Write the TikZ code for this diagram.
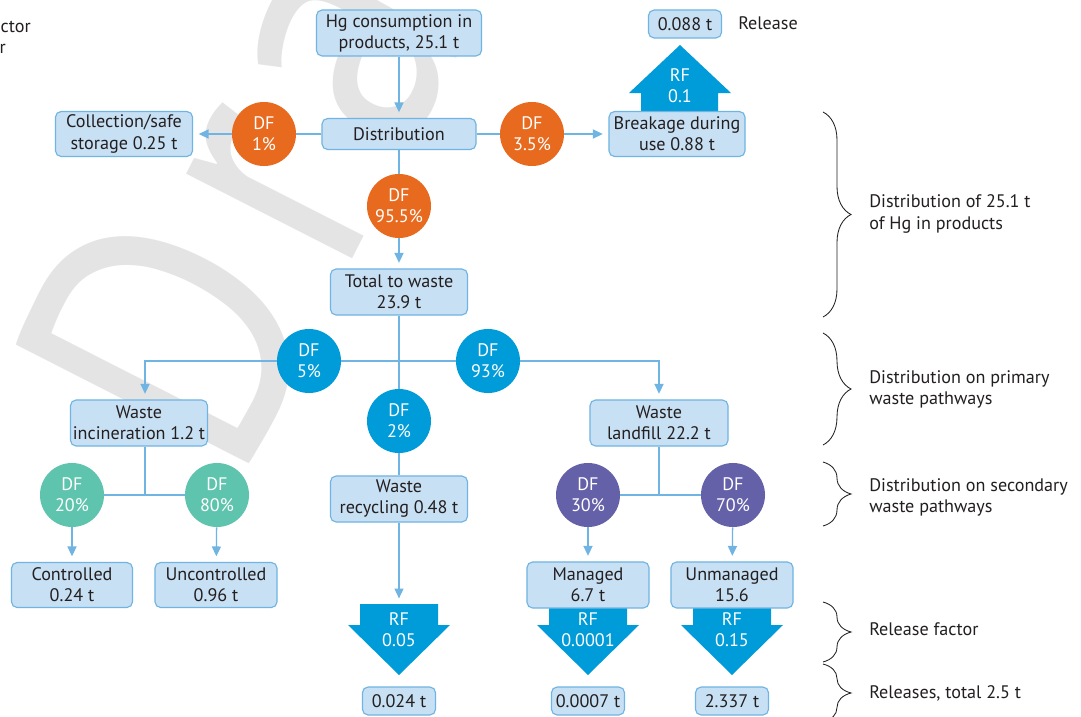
\documentclass[tikz,border=0pt]{standalone}
\usepackage{fontspec}
\setmainfont{PT Sans}
\newfontfamily\markfont[LetterSpace=8]{PT Sans}
\usetikzlibrary{arrows.meta,decorations.pathreplacing}

\definecolor{boxfill}{RGB}{200,224,243}
\definecolor{boxline}{RGB}{111,180,226}
\definecolor{linkblue}{RGB}{111,180,226}
\definecolor{dforange}{RGB}{232,106,31}
\definecolor{dfblue}{RGB}{0,155,217}
\definecolor{dfteal}{RGB}{94,196,173}
\definecolor{dfpurple}{RGB}{101,97,169}
\definecolor{inkgray}{RGB}{35,31,32}
\definecolor{markgray}{RGB}{228,228,228}

\tikzset{
  every node/.style={font=\fontsize{12.9}{15}\selectfont, text=inkgray},
  box/.style={draw=boxline, fill=boxfill, line width=0.8pt, rounded corners=4pt, align=center, inner sep=0pt},
  dfcircle/.style={circle, fill=#1, minimum size=1.6cm, inner sep=0pt, align=center, text=white},
  rflabel/.style={align=center, text=white, inner sep=0pt},
  link/.style={linkblue, line width=0.9pt},
  flow/.style={link, -{Triangle[length=7pt,width=6.4pt]}, shorten >=4pt},
  sidebrace/.style={decorate, decoration={brace, amplitude=0.7cm}, inkgray, line width=0.6pt},
}

\begin{document}
\begin{tikzpicture}[x=0.025cm,y=-0.025cm]

\def\RFCOLOR{dfblue}
	\useasboundingbox (0,0) rectangle (1081,717);
	\fill[white] (0,0) rectangle (1081,717);
	\clip (0,0) rectangle (1081,717);

	% watermark
	\node[rotate=63, anchor=base west, inner sep=0pt, text=markgray, font=\markfont\fontsize{265}{265}\selectfont] (mark) at (236,488) {\scalebox{0.85}[1]{Draft}};

	\node[anchor=east, inner sep=0pt] (legend1) at (31,26) {Distribution factor};
	\node[anchor=east, inner sep=0pt] (legend2) at (6,47) {Release factor};

	% release factor arrows
	\fill[\RFCOLOR] (641,115) -- (641,93) -- (629,93) -- (680,45) -- (731,93) -- (718,93) -- (718,115) -- cycle;
	\fill[\RFCOLOR] (360,604) -- (438,604) -- (438,625) -- (450,625) -- (399,675) -- (348,625) -- (360,625) -- cycle;
	\fill[\RFCOLOR] (549,600) -- (627,600) -- (627,625) -- (639,625) -- (588,675) -- (537,625) -- (549,625) -- cycle;
	\fill[\RFCOLOR] (693,600) -- (771,600) -- (771,625) -- (783,625) -- (732,675) -- (681,625) -- (693,625) -- cycle;
	\node[rflabel] (rf1) at (680,86) {RF\\0.1};
	\node[rflabel] (rf2) at (399,630) {RF\\0.05};
	\node[rflabel] (rf3) at (588,630) {RF\\0.0001};
	\node[rflabel] (rf4) at (732,630) {RF\\0.15};
	\coordinate (rftop2) at (399,604);

	% boxes
	\node[box, minimum width=4.125cm, minimum height=1.15cm] (hg) at (399,33) {Hg consumption in\\products, 25.1 t};
	\node[box, minimum width=3.85cm, minimum height=0.775cm] (dist) at (399,134) {Distribution};
	\node[box, minimum width=3.425cm, minimum height=1.125cm] (coll) at (124,134) {Collection/safe\\storage 0.25 t};
	\node[box, minimum width=3.4cm, minimum height=1.125cm] (break) at (677,134) {Breakage during\\use 0.88 t};
	\node[box, minimum width=1.825cm, minimum height=0.7cm] (rel1) at (685,24) {0.088 t};
	\node[anchor=west, inner sep=0pt] (reltext) at (738,23) {Release};
	\node[box, minimum width=3.425cm, minimum height=1.15cm] (waste) at (399,292) {Total to waste\\23.9 t};
	\node[box, minimum width=3.425cm, minimum height=1.15cm] (incin) at (139,423) {Waste\\incineration 1.2 t};
	\node[box, minimum width=3.425cm, minimum height=1.15cm] (recyc) at (399,499) {Waste\\recycling 0.48 t};
	\node[box, minimum width=3.45cm, minimum height=1.15cm] (landf) at (659,423) {Waste\\landfill 22.2 t};
	\node[box, minimum width=3.025cm, minimum height=1.125cm] (contr) at (72,585) {Controlled\\0.24 t};
	\node[box, minimum width=3.05cm, minimum height=1.125cm] (uncontr) at (216,585) {Uncontrolled\\0.96 t};
	\node[box, minimum width=3.05cm, minimum height=1.15cm] (manag) at (588,585) {Managed\\6.7 t};
	\node[box, minimum width=3.05cm, minimum height=1.15cm] (unmanag) at (732,585) {Unmanaged\\15.6};
	\node[box, minimum width=1.825cm, minimum height=0.7cm] (rel2) at (399,701) {0.024 t};
	\node[box, minimum width=1.825cm, minimum height=0.7cm] (rel3) at (588,701) {0.0007 t};
	\node[box, minimum width=1.825cm, minimum height=0.7cm] (rel4) at (732,701) {2.337 t};

	% distribution factors
	\node[dfcircle=dforange] (df1) at (264,134) {DF\\1\%};
	\node[dfcircle=dforange] (df35) at (532,134) {DF\\3.5\%};
	\node[dfcircle=dforange] (df95) at (399,206) {DF\\95.5\%};
	\node[dfcircle=dfblue] (df5) at (309,361) {DF\\5\%};
	\node[dfcircle=dfblue] (df93) at (488,361) {DF\\93\%};
	\node[dfcircle=dfblue] (df2) at (399,421) {DF\\2\%};
	\node[dfcircle=dfteal] (df20) at (72,495) {DF\\20\%};
	\node[dfcircle=dfteal] (df80) at (217,495) {DF\\80\%};
	\node[dfcircle=dfpurple] (df30) at (588,495) {DF\\30\%};
	\node[dfcircle=dfpurple] (df70) at (733,495) {DF\\70\%};
	\coordinate (incjoin) at (145,496);

	% connectors
	\draw[flow] (hg) -- (dist);
	\draw[link] (dist) -- (df1);
	\draw[flow] (df1) -- (coll);
	\draw[link] (dist) -- (df35);
	\draw[flow] (df35) -- (break);
	\draw[link] (dist) -- (df95);
	\draw[flow] (df95) -- (waste);
	\draw[link] (waste) -- (df2);
	\draw[link] (df2) -- (recyc);
	\draw[link] (df5) -- (df93);
	\draw[flow] (df5) -| (incin.north -| incjoin);
	\draw[flow] (df93) -| (landf);
	\draw[link] (incin.south -| incjoin) -- (incjoin);
	\draw[link] (df20) -- (df80);
	\draw[flow] (df20) -- (contr);
	\draw[flow] (df80) -- (uncontr);
	\draw[link] (landf) -- (landf |- df30);
	\draw[link] (df30) -- (df70);
	\draw[flow] (df30) -- (manag);
	\draw[flow] (df70) -- (unmanag);
	\draw[flow] (recyc) -- (rftop2);

	% levels on the right
	\draw[sidebrace] (823,112) -- (823,317);
	\draw[sidebrace] (823,333) -- (823,445);
	\draw[sidebrace] (823,462) -- (823,526);
	\draw[sidebrace] (823,602) -- (823,662);
	\draw[sidebrace] (823,664) -- (823,722);
	\node[anchor=west, align=left, inner sep=0pt] (lev1) at (869,214) {Distribution of 25.1 t\\of Hg in products};
	\node[anchor=west, align=left, inner sep=0pt] (lev2) at (869,389) {Distribution on primary\\waste pathways};
	\node[anchor=west, align=left, inner sep=0pt] (lev3) at (869,497) {Distribution on secondary\\waste pathways};
	\node[anchor=west, inner sep=0pt] (lev4) at (869,629) {Release factor};
	\node[anchor=west, inner sep=0pt] (lev5) at (869,693) {Releases, total 2.5 t};

\end{tikzpicture}
\end{document}
